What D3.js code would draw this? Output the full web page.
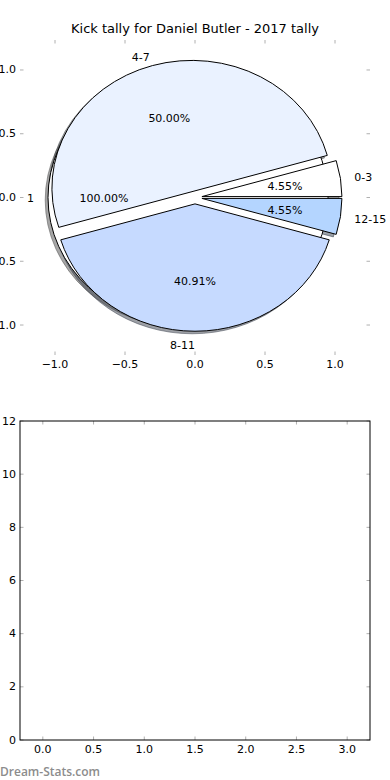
<!DOCTYPE html>
<html>
<head>
<meta charset="utf-8">
<script src="https://cdn.jsdelivr.net/npm/d3@7"></script>
<style>
  body { margin: 0; background: #fff; }
  text { font-family: "DejaVu Sans", sans-serif; }
</style>
</head>
<body>
<div id="chart-area"></div>
<script>
// kick tally data
var labels = ['0-3', '4-7', '8-11', '12-15'];
var kicks = [1, 11, 9, 1];
var colors = ['#ffffff', '#eaf2ff', '#c6daff', '#b4d5ff'];
var explode = [0.05, 0.05, 0.05, 0.05];

// the second (background) pie, one slice
var totalLabels = ['1'];
var totals = [1];
var totalColors = ['#ffffff'];
var totalExplode = [0.05];

var pieTicks = [-1.0, -0.5, 0.0, 0.5, 1.0];
var barXTicks = [0.0, 0.5, 1.0, 1.5, 2.0, 2.5, 3.0];
var barYTicks = [0, 2, 4, 6, 8, 10, 12];

var def = {
    width: 390,
    height: 780,
    left: 20,
    right: 370,
    tick: 3.5,
    font: 11
};

var svg = d3.select('#chart-area').append('svg')
    .attr('width', def.width)
    .attr('height', def.height);

// title
svg.append('text')
    .attr('x', 195)
    .attr('y', 33)
    .attr('text-anchor', 'middle')
    .attr('font-size', '13px')
    .text('Kick tally for Daniel Butler - 2017 tally');

//scales for the pie axes
var x = d3.scaleLinear().domain([-1.25, 1.25]).range([def.left, def.right]);
var y = d3.scaleLinear().domain([-1.235, 1.235]).range([355, 40]);

var minus = function(v, f) {
    return d3.format(f)(v).replace('-', '\u2212');
};

function drawTicks(g, xs, ys, xsc, ysc, fx, fy) {
    var top = ysc.range()[1], bot = ysc.range()[0];
    var lft = xsc.range()[0], rgt = xsc.range()[1];
    xs.forEach(function(v) {
        var px = xsc(v);
        g.append('line').attr('x1', px).attr('x2', px).attr('y1', bot).attr('y2', bot - def.tick)
            .attr('stroke', '#b0b0b0');
        g.append('line').attr('x1', px).attr('x2', px).attr('y1', top).attr('y2', top + def.tick)
            .attr('stroke', '#b0b0b0');
        g.append('text').attr('x', px).attr('y', bot + 9)
            .attr('text-anchor', 'middle').attr('dominant-baseline', 'central')
            .attr('font-size', def.font + 'px')
            .text(minus(v, fx));
    });
    ys.forEach(function(v) {
        var py = ysc(v);
        g.append('line').attr('x1', lft).attr('x2', lft + def.tick).attr('y1', py).attr('y2', py)
            .attr('stroke', '#b0b0b0');
        g.append('line').attr('x1', rgt).attr('x2', rgt - def.tick).attr('y1', py).attr('y2', py)
            .attr('stroke', '#b0b0b0');
        g.append('text').attr('x', lft - 4).attr('y', py)
            .attr('text-anchor', 'end').attr('dominant-baseline', 'central')
            .attr('font-size', def.font + 'px')
            .text(minus(v, fy));
    });
}

var pieG = svg.append('g');
drawTicks(pieG, pieTicks, pieTicks, x, y, '.1f', '.1f');

var pie = d3.pie().sort(null).startAngle(0).endAngle(2 * Math.PI);
var arc = d3.arc().innerRadius(0).outerRadius(1);

// slices as [value, label, color, explode] through d3.pie
function slices(vals, labs, cols, exps) {
    var total = d3.sum(vals);
    return pie(vals).map(function(d, i) {
        var mid = (d.startAngle + d.endAngle) / 2; // counterclockwise from +x
        return {
            d: d, label: labs[i], color: cols[i], mid: mid,
            ox: exps[i] * Math.cos(mid), oy: exps[i] * Math.sin(mid),
            pct: d3.format('.2f')(vals[i] / total * 100) + '%'
        };
    });
}

var back = slices(totals, totalLabels, totalColors, totalExplode);
var front = slices(kicks, labels, colors, explode);

var sx = x(1) - x(0), sy = y(0) - y(1);
function wedge(g, s, dx, dy, fill, stroke, op) {
    g.append('path')
        .attr('transform', 'translate(' + x(s.ox + dx) + ',' + y(s.oy + dy) + ') scale(' + sx + ',' + sy + ')')
        .attr('d', arc({ startAngle: Math.PI / 2 - s.d.startAngle, endAngle: Math.PI / 2 - s.d.endAngle }))
        .attr('fill', fill)
        .attr('fill-opacity', op)
        .attr('stroke', stroke)
        .attr('stroke-opacity', op)
        .attr('stroke-width', 1)
        .attr('vector-effect', 'non-scaling-stroke');
}

function shadowColor(c) {
    var r = d3.rgb(c);
    return d3.rgb(r.r * 0.3, r.g * 0.3, r.b * 0.3).toString();
}

// shadows first, then wedges (back pie below front pie)
back.concat(front).forEach(function(s) {
    wedge(pieG, s, -0.02, -0.02, shadowColor(s.color), shadowColor(s.color), 0.5);
});
back.concat(front).forEach(function(s) {
    wedge(pieG, s, 0, 0, s.color, '#000', 1);
});

// labels
back.concat(front).forEach(function(s) {
    var c = Math.cos(s.mid), n = Math.sin(s.mid);
    pieG.append('text')
        .attr('x', x(s.ox + 1.1 * c))
        .attr('y', y(s.oy + 1.1 * n) + 1)
        .attr('text-anchor', c > 0 ? 'start' : 'end')
        .attr('dominant-baseline', 'central')
        .attr('font-size', def.font + 'px')
        .text(s.label);
    pieG.append('text')
        .attr('x', x(s.ox + 0.6 * c))
        .attr('y', y(s.oy + 0.6 * n) + 1)
        .attr('text-anchor', 'middle')
        .attr('dominant-baseline', 'central')
        .attr('font-size', def.font + 'px')
        .text(s.pct);
});

// empty lower axes
var bx = d3.scaleLinear().domain([-0.225, 3.225]).range([def.left, def.right]);
var by = d3.scaleLinear().domain([0, 12]).range([740, 421]);
var barG = svg.append('g');
drawTicks(barG, barXTicks, barYTicks, bx, by, '.1f', 'd');
barG.append('rect')
    .attr('x', bx.range()[0]).attr('y', by.range()[1])
    .attr('width', bx.range()[1] - bx.range()[0])
    .attr('height', by.range()[0] - by.range()[1])
    .attr('fill', 'none').attr('stroke', '#000').attr('stroke-width', 1);

// watermark
svg.append('text')
    .attr('x', 0)
    .attr('y', 776)
    .attr('font-size', '12px')
    .attr('fill', '#8c8c8c')
    .style('font-family', '"Open Sans", sans-serif')
    .style('font-weight', 600)
    .text('Dream-Stats.com');
</script>
</body>
</html>
